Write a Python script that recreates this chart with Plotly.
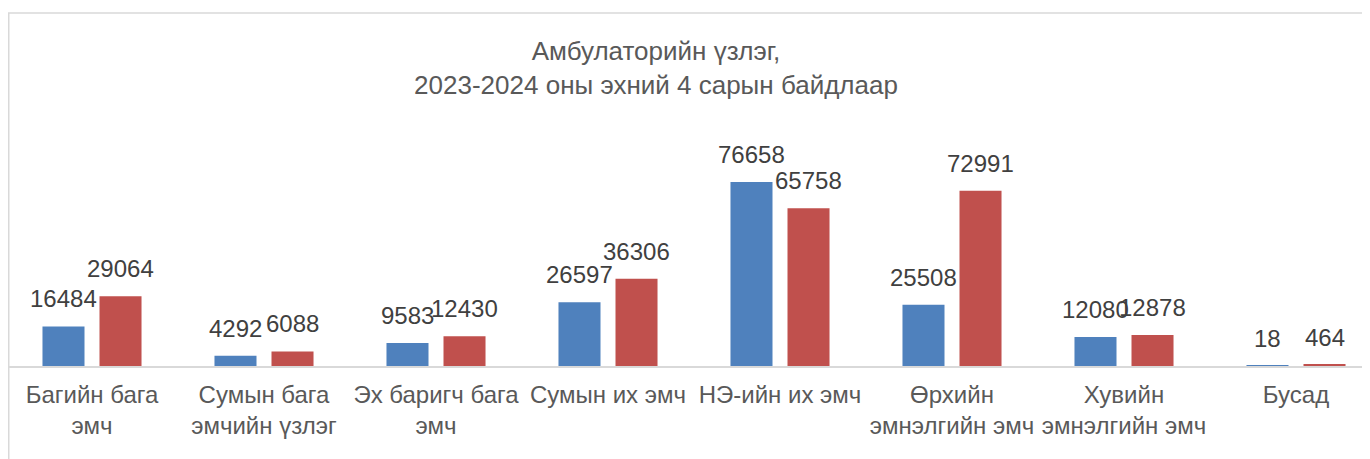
import plotly.graph_objects as go

categories = ["Багийн бага<br>эмч", "Сумын бага<br>эмчийн үзлэг", "Эх баригч бага<br>эмч",
              "Сумын их эмч", "НЭ-ийн их эмч", "Өрхийн<br>эмнэлгийн эмч",
              "Хувийн<br>эмнэлгийн эмч", "Бусад"]
values_2023 = [16484, 4292, 9583, 26597, 76658, 25508, 12080, 18]
values_2024 = [29064, 6088, 12430, 36306, 65758, 72991, 12878, 464]
series_names = ["2023", "2024"]
colors = ["#4F81BD", "#C0504D"]

FONT = "Liberation Sans, Arial, sans-serif"

fig = go.Figure()
for name, vals, col in zip(series_names, [values_2023, values_2024], colors):
    fig.add_trace(go.Bar(x=categories, y=vals, name=name, marker_color=col,
                         marker_line_width=0, hoverinfo="skip"))

annotations = []
for vals, shift in [(values_2023, -28.5), (values_2024, 28.5)]:
    for c, v in zip(categories, vals):
        annotations.append(dict(x=c, y=v, xref="x", yref="y", text=str(v),
                                showarrow=False, xanchor="center", yanchor="bottom",
                                xshift=shift, yshift=12,
                                font=dict(family=FONT, size=24, color="#404040")))

# page body has an 8px margin, so the figure sits at (8, 8) in the window
W, H = 1362, 451
ml, mr, mt, mb = 0, 0, 5, 93
pw = W - ml - mr
ph = H - mt - mb
step = 172.0
x0 = -0.5 + 2 / step

fig.update_layout(
    width=W, height=H,
    margin=dict(l=ml, r=mr, t=mt, b=mb),
    paper_bgcolor="white", plot_bgcolor="white",
    showlegend=False,
    barmode="group", bargap=0.337, bargroupgap=0.263,
    title=dict(text="Амбулаторийн үзлэг,<br>2023-2024 оны эхний 4 сарын байдлаар",
               x=648 / W, xref="container", xanchor="center",
               y=1 - 52 / H, yref="container", yanchor="middle",
               font=dict(family=FONT, size=26, color="#595959")),
    xaxis=dict(range=[x0, x0 + pw / step], showline=True, linecolor="#D9D9D9",
               linewidth=1.5, showgrid=False, zeroline=False,
               ticks="outside", ticklen=6, tickcolor="rgba(0,0,0,0)",
               tickfont=dict(family=FONT, size=24, color="#595959")),
    yaxis=dict(range=[0, ph / 0.0024], visible=False, showgrid=False, zeroline=False),
    annotations=annotations,
    shapes=[dict(type="path", xref="paper", yref="paper",
                 path=f"M {0.75/pw} -0.5 L {0.75/pw} 1 L 1.2 1",
                 line=dict(color="#D9D9D9", width=1.5))],
)

fig.write_html("out.html")
